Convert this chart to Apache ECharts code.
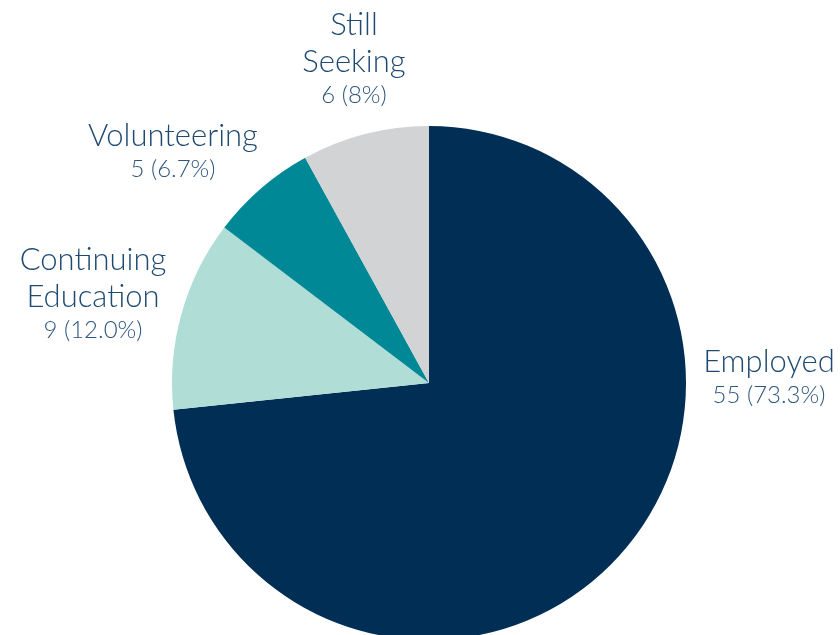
<!DOCTYPE html>
<html>
<head>
<meta charset="utf-8">
<script src="https://cdn.jsdelivr.net/npm/echarts@6/dist/echarts.min.js"></script>
<style>
  html, body { margin: 0; padding: 0; background: #ffffff; }
  #chart { width: 840px; height: 635px; }
</style>
</head>
<body>
<div id="chart"></div>
<script>
const categories = ['Employed', 'Continuing Education', 'Volunteering', 'Still Seeking'];
const counts = [55, 9, 5, 6];
const percentLabels = ['73.3%', '12.0%', '6.7%', '8%'];

const sliceColors = ['#002E55', '#B0DDD6', '#008896', '#D1D3D5'];
// label anchor (centre of each text block), layout only
const labelAnchors = [[769, 377], [93, 293], [173, 151], [354, 58]];

const chart = echarts.init(document.getElementById('chart'), null, { renderer: 'canvas' });

chart.setOption({
  animation: false,
  backgroundColor: '#ffffff',
  series: [{
    type: 'pie',
    center: [429, 383],
    radius: 257,
    startAngle: 90,
    clockwise: true,
    silent: true,
    data: categories.map((c, i) => ({
      name: c,
      value: counts[i],
      itemStyle: { color: sliceColors[i] }
    })),
    label: {
      show: true,
      position: 'outside',
      overflow: 'none',
      formatter: (p) => '{n|' + p.name.replace(' ', '\n') + '}\n{v|' + p.value + ' (' + percentLabels[p.dataIndex] + ')}',
      align: 'center',
      rich: {
        n: { fontFamily: 'Lato', fontWeight: 300, fontSize: 31, lineHeight: 37, color: '#1E4A72', align: 'center' },
        v: { fontFamily: 'Lato', fontWeight: 300, fontSize: 24, lineHeight: 30, color: '#2E5780', align: 'center' }
      }
    },
    labelLine: { show: false },
    labelLayout: (params) => ({
      x: labelAnchors[params.dataIndex][0],
      y: labelAnchors[params.dataIndex][1],
      align: 'center',
      verticalAlign: 'middle'
    })
  }]
});
</script>
</body>
</html>
